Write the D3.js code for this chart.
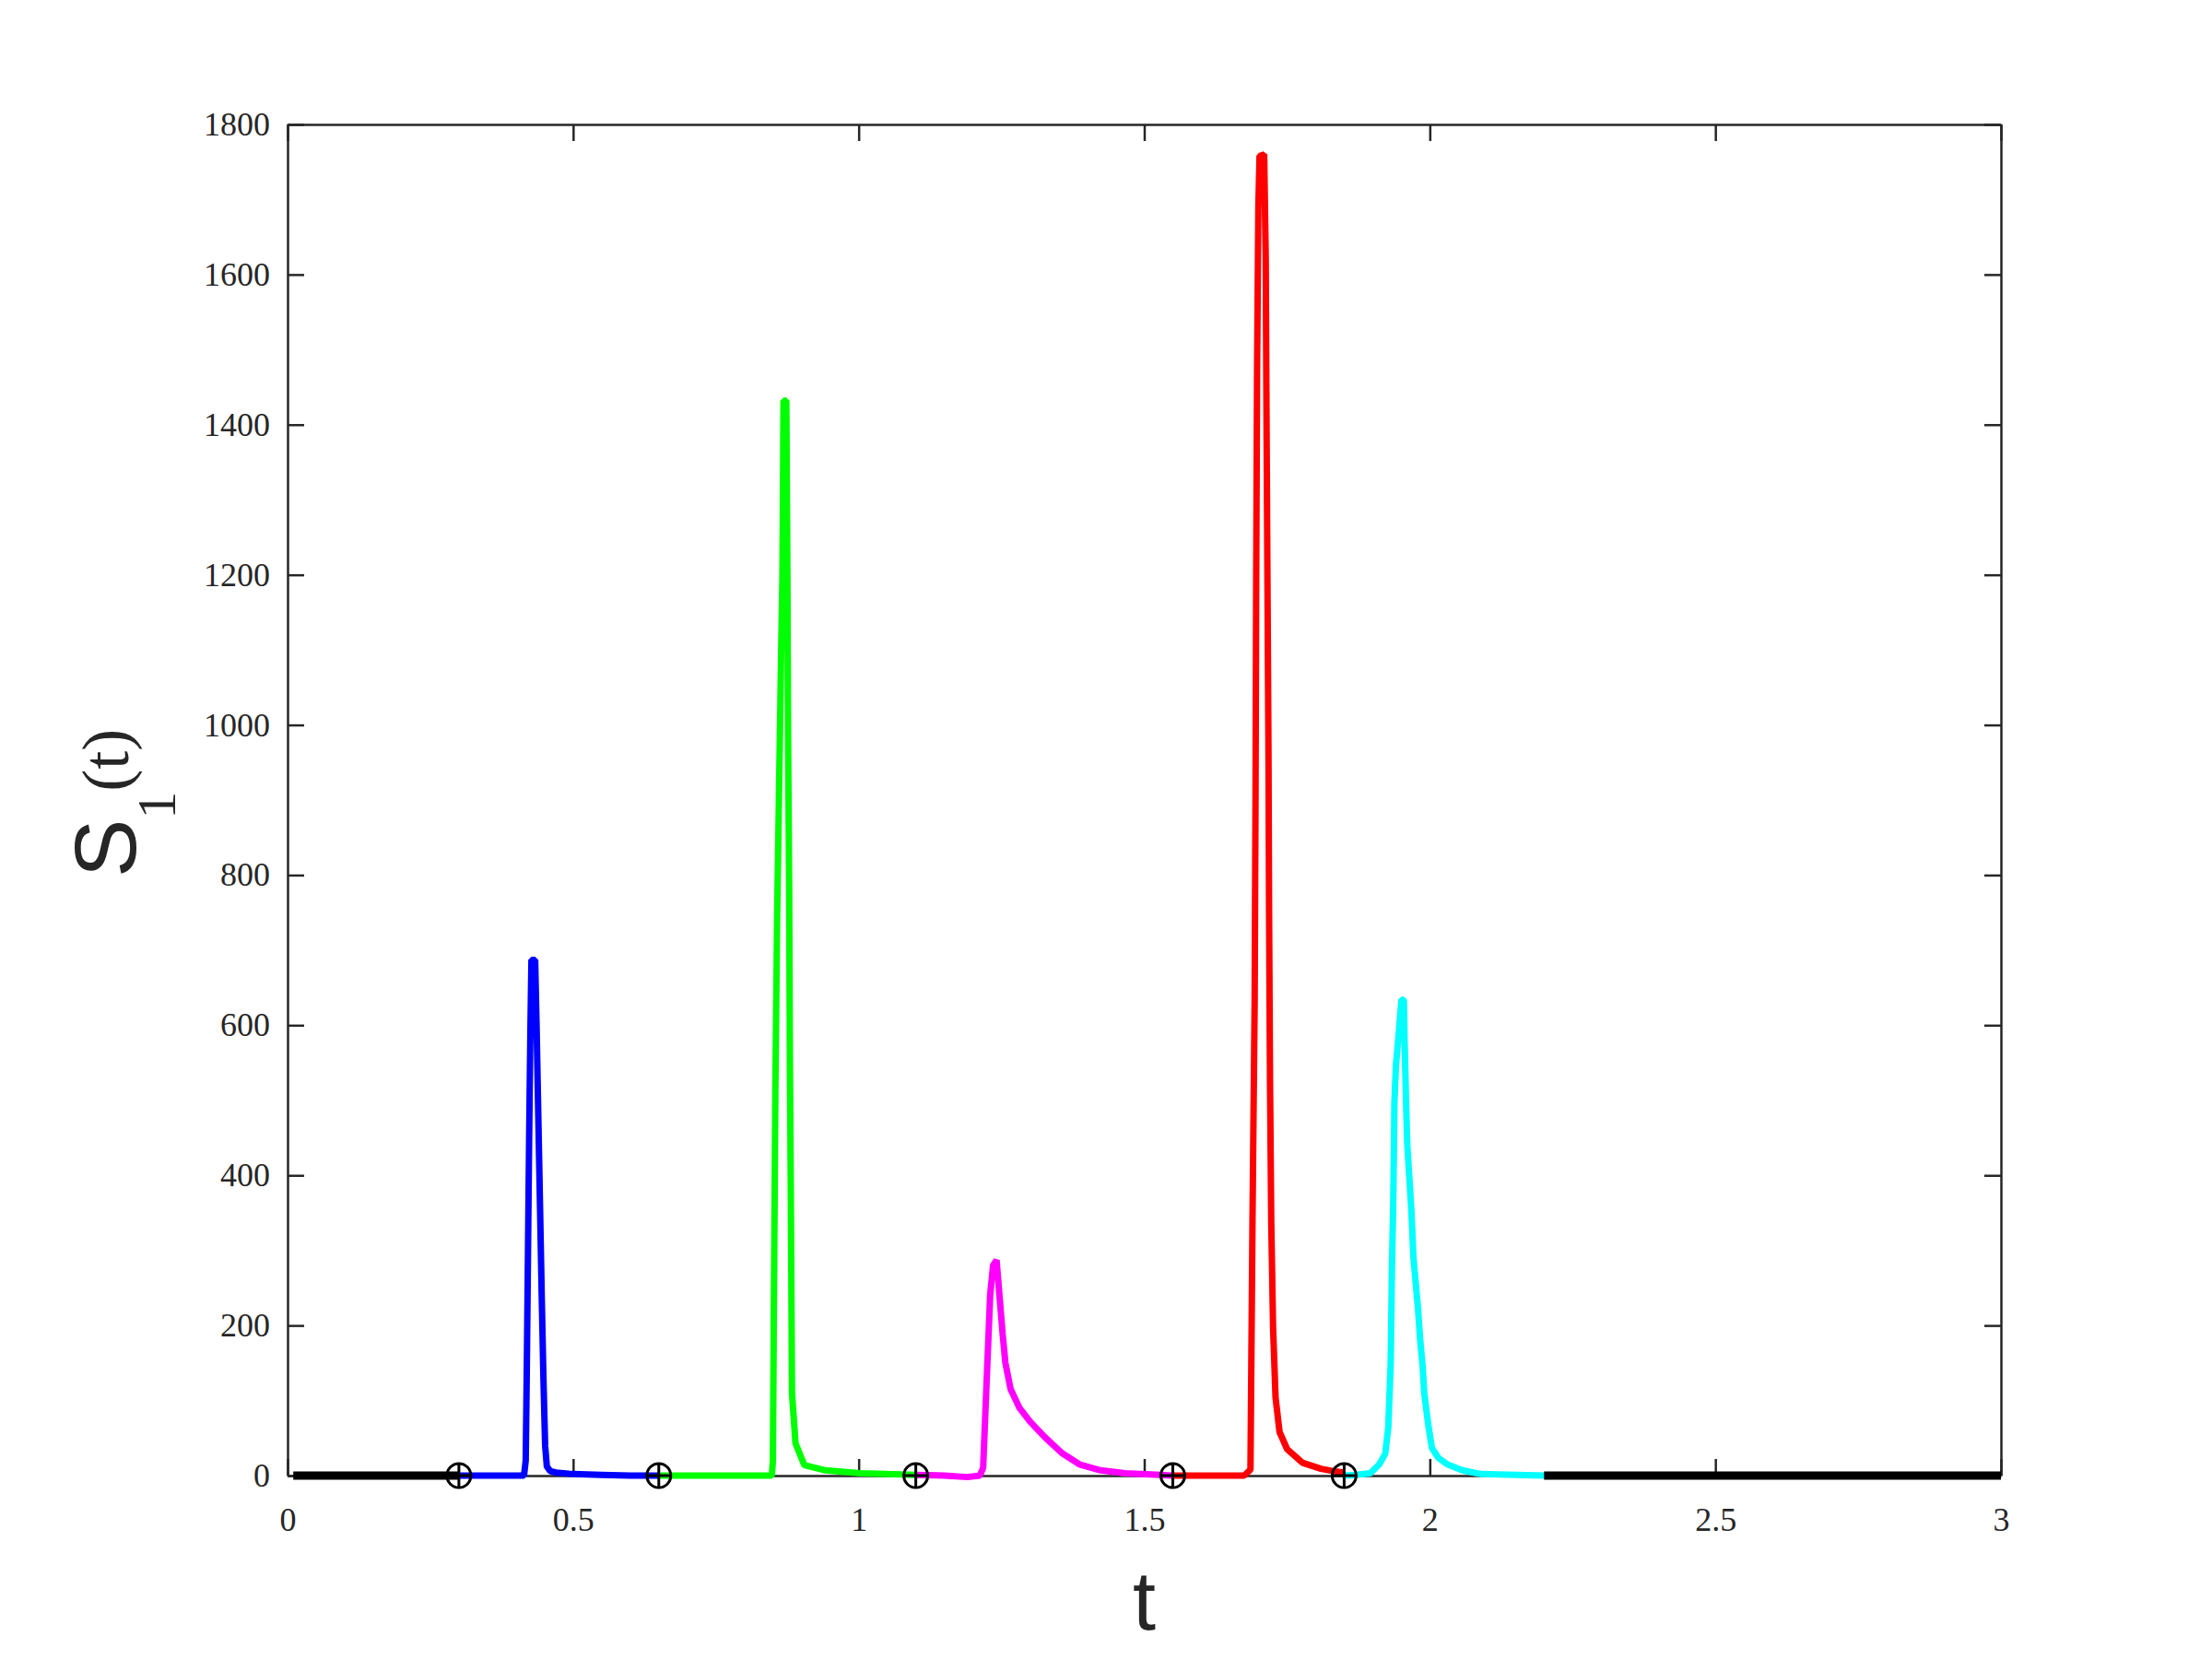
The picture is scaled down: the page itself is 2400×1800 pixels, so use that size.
<!DOCTYPE html>
<html>
<head>
<meta charset="utf-8">
<script src="https://cdn.jsdelivr.net/npm/d3@7"></script>
<style>
  html, body { margin: 0; padding: 0; background: #fff; }
  svg { display: block; }
</style>
</head>
<body>
<div class="chart"></div>
<script>

// axis ticks
var tTicks = [0, 0.5, 1, 1.5, 2, 2.5, 3];
var sTicks = [0, 200, 400, 600, 800, 1000, 1200, 1400, 1600, 1800];

// circled-cross markers on the t axis
var markerT = [0.3, 0.65, 1.1, 1.55, 1.85];

// black lead-in / tail
var headT = [0.01, 0.3], headS = [0, 0];
var tailT = [2.2, 3], tailS = [0, 0];

// blue pulse
var blueT = [0.30, 0.35, 0.40, 0.414, 0.417, 0.419, 0.421, 0.423, 0.425, 0.427, 0.4335, 0.436, 0.439, 0.442, 0.445, 0.448, 0.451, 0.454, 0.46, 0.47, 0.50, 0.55, 0.60, 0.65];
var blueS = [0, 0, 0, 0, 20, 150, 300, 450, 580, 687, 687, 600, 480, 360, 240, 130, 40, 12, 6, 4, 2, 1, 0, 0];

// green pulse
var greenT = [0.65, 0.75, 0.848, 0.8498, 0.8511, 0.8542, 0.8573, 0.8603, 0.8641, 0.8665, 0.8684, 0.8733, 0.8752, 0.8764, 0.8783, 0.8795, 0.8814, 0.8832, 0.8894, 0.9048, 0.9419, 1.0036, 1.05, 1.1];
var greenS = [0, 0, 0, 20, 177, 520, 750, 900, 1090, 1200, 1432, 1432, 1200, 980, 780, 560, 350, 110, 43, 14, 7, 3, 2, 1];

// magenta pulse
var magentaT = [1.1, 1.15, 1.19, 1.212, 1.2179, 1.2216, 1.2259, 1.2302, 1.2353, 1.2414, 1.2476, 1.2519, 1.2569, 1.2661, 1.2816, 1.30, 1.3248, 1.3557, 1.3865, 1.4236, 1.4668, 1.5285, 1.55];
var magentaS = [1, 0, -2, 0, 10, 80, 160, 240, 280, 287, 230, 190, 150, 115, 90, 72, 52, 30, 15, 7, 3, 1, 0];

// red pulse
var redT = [1.55, 1.62, 1.675, 1.686, 1.6896, 1.6933, 1.6949, 1.696, 1.6976, 1.6998, 1.7019, 1.71, 1.7127, 1.7143, 1.7159, 1.7175, 1.7186, 1.7202, 1.7224, 1.7256, 1.7299, 1.7369, 1.7503, 1.7772, 1.8095, 1.831, 1.85];
var redS = [0, 0, 0, 8, 347, 631, 915, 1193, 1476, 1690, 1758, 1760, 1621, 1378, 1170, 961, 747, 527, 336, 197, 104, 58, 35, 17, 9, 6, 4];

// cyan pulse
var cyanT = [1.85, 1.87, 1.8956, 1.9116, 1.9219, 1.9273, 1.9316, 1.9337, 1.9359, 1.937, 1.938, 1.9407, 1.9461, 1.9504, 1.9545, 1.9558, 1.958, 1.9606, 1.9676, 1.9714, 1.9795, 1.9832, 1.9875, 1.9902, 1.9972, 2.0036, 2.0144, 2.0305, 2.0569, 2.0892, 2.202];
var cyanS = [0, 1, 3, 15, 29, 64, 151, 278, 360, 425, 496, 546, 594, 634, 634, 580, 510, 440, 355, 290, 221, 180, 145, 110, 68, 37, 24, 15, 7, 2, 0];


var width = 2400,
    height = 1800;

var svg = d3.select(".chart")
    .append("svg")
    .attr("width", width)
    .attr("height", height);

var x = d3.scaleLinear().domain([0, 3]).range([312, 2171]);
var y = d3.scaleLinear().domain([0, 1800]).range([1601, 135]);

var axisColor = "#262626";
var tickFont = "'Liberation Serif', serif";

// ---- axes (ticks inside, mirrored on top and right)
var gx = svg.append("g")
    .attr("transform", "translate(0," + y(0) + ")")
    .call(d3.axisBottom(x).tickValues(tTicks).tickSize(-18).tickSizeOuter(0).tickPadding(34)
        .tickFormat(function (d) { return d3.format("~g")(d); }));

var gy = svg.append("g")
    .attr("transform", "translate(" + x(0) + ",0)")
    .call(d3.axisLeft(y).tickValues(sTicks).tickSize(-18).tickSizeOuter(0).tickPadding(19)
        .tickFormat(d3.format("d")));

var gtop = svg.append("g")
    .attr("transform", "translate(0," + y(1800) + ")")
    .call(d3.axisTop(x).tickValues(tTicks).tickSize(-18).tickSizeOuter(0).tickFormat(""));

var gright = svg.append("g")
    .attr("transform", "translate(" + x(3) + ",0)")
    .call(d3.axisRight(y).tickValues(sTicks).tickSize(-18).tickSizeOuter(0).tickFormat(""));

[gx, gy, gtop, gright].forEach(function (g) {
    g.selectAll(".domain").attr("stroke", axisColor).attr("stroke-width", 2.5);
    g.selectAll(".tick line").attr("stroke", axisColor).attr("stroke-width", 2.5);
    g.selectAll(".tick text")
        .attr("fill", axisColor)
        .style("font-family", tickFont)
        .style("font-size", "36px");
});

// ---- curves
var line = d3.line()
    .x(function (d) { return x(d[0]); })
    .y(function (d) { return y(d[1]); });

function zip(ts, ss) {
    return ts.map(function (t, i) { return [t, ss[i]]; });
}

var series = [
    { t: headT, s: headS, color: "#000000", w: 9 },
    { t: blueT, s: blueS, color: "#0000ff", w: 7 },
    { t: greenT, s: greenS, color: "#00ff00", w: 7 },
    { t: magentaT, s: magentaS, color: "#ff00ff", w: 7 },
    { t: redT, s: redS, color: "#ff0000", w: 7 },
    { t: cyanT, s: cyanS, color: "#00ffff", w: 7 },
    { t: tailT, s: tailS, color: "#000000", w: 9 }
];

svg.append("g")
    .selectAll("path")
    .data(series)
    .enter().append("path")
    .attr("d", function (d) { return line(zip(d.t, d.s)); })
    .attr("fill", "none")
    .attr("stroke", function (d) { return d.color; })
    .attr("stroke-width", function (d) { return d.w; })
    .attr("stroke-linejoin", "bevel");

// ---- markers
var r = 13;
var marks = svg.append("g")
    .selectAll("g")
    .data(markerT)
    .enter().append("g")
    .attr("transform", function (d) { return "translate(" + x(d) + "," + y(0) + ")"; });

marks.append("circle")
    .attr("r", r)
    .attr("fill", "none")
    .attr("stroke", "#000")
    .attr("stroke-width", 3);
marks.append("line")
    .attr("x1", -r).attr("x2", r)
    .attr("stroke", "#000").attr("stroke-width", 3);
marks.append("line")
    .attr("y1", -r).attr("y2", r)
    .attr("stroke", "#000").attr("stroke-width", 3);

// ---- axis titles
svg.append("text")
    .attr("x", (x(0) + x(3)) / 2)
    .attr("y", 1768)
    .attr("text-anchor", "middle")
    .attr("fill", axisColor)
    .style("font-family", "'Liberation Sans', sans-serif")
    .style("font-size", "90px")
    .text("t");

var ylab = svg.append("text")
    .attr("transform", "translate(147,952) rotate(-90)")
    .attr("fill", axisColor)
    .style("font-family", "'Liberation Sans', sans-serif")
    .style("font-size", "95px");
ylab.append("tspan").text("S");
ylab.append("tspan")
    .attr("dy", 43)
    .style("font-family", "'Liberation Serif', serif")
    .style("font-size", "60px")
    .text("1");
ylab.append("tspan")
    .attr("dy", -51)
    .style("font-family", "'Liberation Serif', serif")
    .style("font-size", "72px")
    .text("(t)");

</script>
</body>
</html>
